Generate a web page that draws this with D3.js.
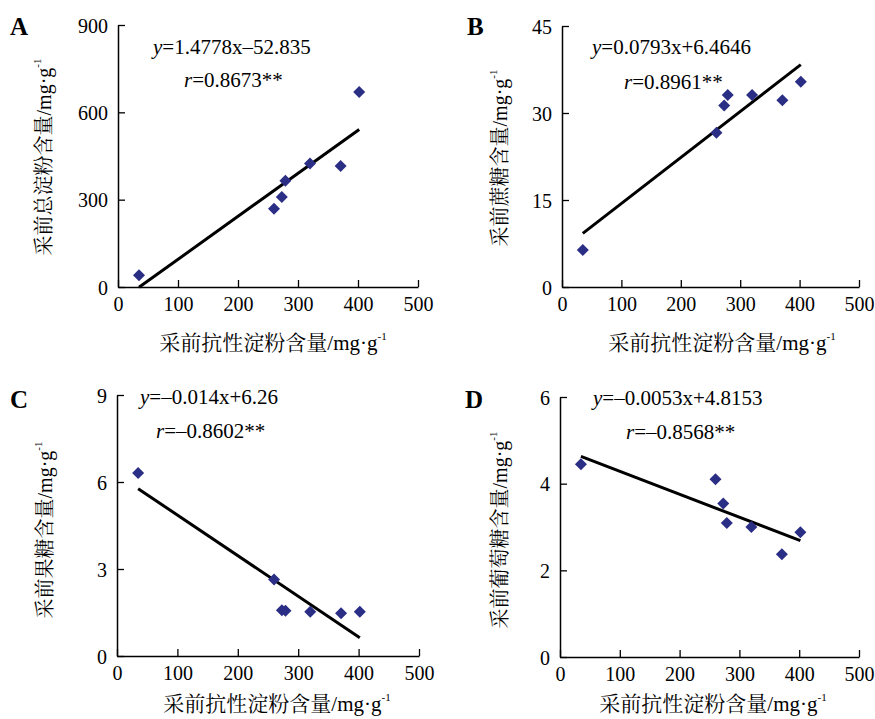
<!DOCTYPE html>
<html>
<head>
<meta charset="utf-8">
<script src="https://cdn.jsdelivr.net/npm/d3@7"></script>
<style>
  body { margin: 0; background: #fff; }
  svg text { font-family: "Liberation Serif", "Times New Roman", "Noto Serif CJK SC", "Noto Sans CJK SC", serif; fill: #000; }
</style>
</head>
<body>
<svg id="chart" width="875" height="719"></svg>
<script>
// pre-harvest resistant starch content (shared x for all panels)
var resistantStarch = [35, 260, 273, 279, 320, 371, 402];

var totalStarch = [40, 269, 309, 365, 424, 416, 670];
var sucrose = [6.4, 26.6, 31.3, 33.1, 33.1, 32.2, 35.4];
var fructose = [6.31, 2.64, 1.58, 1.56, 1.53, 1.47, 1.53];
var glucose = [4.45, 4.10, 3.54, 3.09, 3.00, 2.37, 2.88];

var xTicks = [0, 100, 200, 300, 400, 500];
var yTicksA = [0, 300, 600, 900];
var yTicksB = [0, 15, 30, 45];
var yTicksC = [0, 3, 6, 9];
var yTicksD = [0, 2, 4, 6];

var letters = ["A", "B", "C", "D"];
var yTitles = ["采前总淀粉含量", "采前蔗糖含量", "采前果糖含量", "采前葡萄糖含量"];
var xTitle = "采前抗性淀粉含量";
var slopes = [1.4778, 0.0793, -0.014, -0.0053];
var intercepts = [-52.835, 6.4646, 6.26, 4.8153];
var eqTexts = ["=1.4778x–52.835", "=0.0793x+6.4646", "=–0.014x+6.26", "=–0.0053x+4.8153"];
var rTexts = ["=0.8673**", "=0.8961**", "=–0.8602**", "=–0.8568**"];

var seriesList = [totalStarch, sucrose, fructose, glucose];
var yTickList = [yTicksA, yTicksB, yTicksC, yTicksD];

// panel geometry
var layout = [
  { x0: 118, x1: 418, yb: 287, yt: 25, letter: [10, 35], eq: [153, 54], r: [184, 87], ytitle: [44, 157], xtitle: [273, 350] },
  { x0: 562, x1: 859, yb: 287, yt: 26, letter: [467, 35], eq: [592, 54], r: [624, 89], ytitle: [500, 158], xtitle: [722, 350] },
  { x0: 117, x1: 419, yb: 656, yt: 395, letter: [10, 408], eq: [140, 404], r: [156, 438], ytitle: [45, 530], xtitle: [277, 711] },
  { x0: 560, x1: 859, yb: 657, yt: 397, letter: [465, 408], eq: [593, 405], r: [626, 439], ytitle: [500, 530], xtitle: [713, 711] }
];

var svg = d3.select('#chart');
var diamond = "M0,-6L6,0L0,6L-6,0Z";
var serif = '"Liberation Serif", "Times New Roman", serif';

layout.forEach(function(L, p) {
    var values = seriesList[p];
    var yTicks = yTickList[p];
    var x = d3.scaleLinear().domain([0, 500]).range([L.x0, L.x1]);
    var y = d3.scaleLinear().domain([0, yTicks[yTicks.length - 1]]).range([L.yb, L.yt]);
    var g = svg.append('g');

    // axes, ticks point inward
    var xAxis = g.append('g')
        .attr('transform', 'translate(0,' + L.yb + ')')
        .call(d3.axisBottom(x).tickValues(xTicks).tickFormat(d3.format('d'))
            .tickSizeInner(-7).tickSizeOuter(0).tickPadding(10));
    var yAxis = g.append('g')
        .attr('transform', 'translate(' + L.x0 + ',0)')
        .call(d3.axisLeft(y).tickValues(yTicks).tickFormat(d3.format('d'))
            .tickSizeInner(-7).tickSizeOuter(0).tickPadding(10));
    [xAxis, yAxis].forEach(function(a) {
        a.attr('font-family', serif).attr('font-size', 20);
        a.select('.domain').attr('stroke', '#000').attr('stroke-width', 1.5);
        a.selectAll('.tick line').attr('stroke', '#000').attr('stroke-width', 1.3);
        a.selectAll('.tick text').attr('fill', '#000');
    });
    xAxis.selectAll('.tick text').attr('dy', '0.71em');
    yAxis.selectAll('.tick text').attr('dy', '0.35em');

    // regression line
    var xs = d3.extent(resistantStarch);
    g.append('line')
        .attr('x1', x(xs[0])).attr('y1', y(slopes[p] * xs[0] + intercepts[p]))
        .attr('x2', x(xs[1])).attr('y2', y(slopes[p] * xs[1] + intercepts[p]))
        .attr('stroke', '#000').attr('stroke-width', 3);

    // points
    g.selectAll('path.pt')
        .data(values)
        .enter()
        .append('path')
        .attr('class', 'pt')
        .attr('d', diamond)
        .attr('fill', '#2b2e85')
        .attr('transform', function(d, i) {
            return 'translate(' + x(resistantStarch[i]) + ',' + y(d) + ')';
        });

    // panel letter
    g.append('text').attr('x', L.letter[0]).attr('y', L.letter[1])
        .attr('font-size', 25).attr('font-weight', 'bold').text(letters[p]);

    // equation and r
    var eq = g.append('text').attr('x', L.eq[0]).attr('y', L.eq[1]).attr('font-size', 21);
    eq.append('tspan').attr('font-style', 'italic').text('y');
    eq.append('tspan').text(eqTexts[p]);
    var rt = g.append('text').attr('x', L.r[0]).attr('y', L.r[1]).attr('font-size', 21);
    rt.append('tspan').attr('font-style', 'italic').text('r');
    rt.append('tspan').text(rTexts[p]);

    // y title
    var yt = g.append('text')
        .attr('transform', 'translate(' + L.ytitle[0] + ',' + L.ytitle[1] + ') rotate(-90)')
        .attr('text-anchor', 'middle').attr('dy', '0.35em').attr('font-size', 20);
    yt.append('tspan').text(yTitles[p] + '/mg·g');
    yt.append('tspan').attr('font-size', 11).attr('dy', '-0.9em').text('-1');

    // x title
    var xt = g.append('text')
        .attr('x', L.xtitle[0]).attr('y', L.xtitle[1])
        .attr('text-anchor', 'middle').attr('font-size', 21);
    xt.append('tspan').text(xTitle + '/mg·g');
    xt.append('tspan').attr('font-size', 11).attr('dy', '-0.9em').text('-1');
});
</script>
</body>
</html>
